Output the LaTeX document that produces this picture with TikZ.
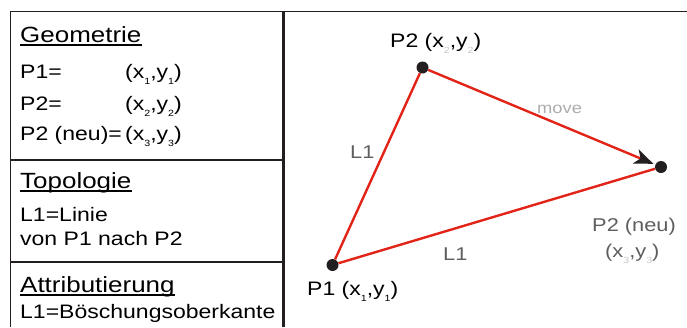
\documentclass[tikz,border=0pt]{standalone}
\usepackage{fontspec}
\setmainfont{Liberation Sans}
\newfontfamily\af[FakeStretch=1.18]{Liberation Sans}
\usetikzlibrary{arrows.meta}
\definecolor{ink}{HTML}{231F20}
\definecolor{lred}{RGB}{226,36,24}
\definecolor{lbl}{HTML}{5E5E5E}
\newcommand\subx[1]{\raisebox{-6.5pt}{\fontsize{9}{9}\selectfont #1}}
\newcommand\subg[1]{\raisebox{-6.5pt}{\fontsize{9}{9}\selectfont\color{gray!45}#1}}
\tikzset{
  frame/.style={draw=ink,line width=1.5pt},
  sep/.style={draw=ink,line width=1.3pt},
  head/.style={anchor=base west,inner sep=0pt,font=\af\fontsize{22}{22}\selectfont,text=black},
  body/.style={anchor=base west,inner sep=0pt,font=\af\fontsize{19.5}{19.5}\selectfont,text=black},
  glabel/.style={anchor=base west,inner sep=0pt,font=\af\fontsize{18.5}{18.5}\selectfont,text=lbl},
  mlabel/.style={anchor=base west,inner sep=0pt,font=\af\fontsize{15.5}{15.5}\selectfont,text=gray!65},
  dot/.style={circle,fill=ink,inner sep=0pt,minimum size=12pt},
  redline/.style={draw=lred,line width=2.4pt},
  uline/.style={draw=black,line width=1.2pt}
}
\begin{document}
\begin{tikzpicture}[x=1pt,y=-1pt]
\useasboundingbox (0,0) rectangle (687,327);
% frame
\coordinate (tl) at (10,11.5);
\coordinate (tr) at (687,11.5);
\coordinate (bl) at (10,327);
\coordinate (vt) at (283.5,11.5);
\coordinate (vb) at (283.5,327);
\coordinate (s1l) at (10,160);
\coordinate (s1r) at (283.5,160);
\coordinate (s2l) at (10,262);
\coordinate (s2r) at (283.5,262);
\draw[frame] (tl) -- (tr);
\draw[draw=ink,line width=1pt] (tl) -- (bl);
\draw[draw=ink,line width=2.6pt] (vt) -- (vb);
\draw[sep] (s1l) -- (s1r);
\draw[sep] (s2l) -- (s2r);
% left texts
\node[head] (h1) at (20,42.5) {Geometrie};
\draw[uline] ([yshift=-2.5pt]h1.base west) -- ([yshift=-2.5pt]h1.base east);
\node[body] (g1) at (20,78) {P1=};
\node[body] (g1b) at (125,78) {(x\subx{1},y\subx{1})};
\node[body] (g2) at (20,110) {P2=};
\node[body] (g2b) at (125,110) {(x\subx{2},y\subx{2})};
\node[body] (g3) at (20,140) {P2 (neu)=};
\node[body] (g3b) at (125,140) {(x\subx{3},y\subx{3})};
\node[head] (h2) at (20,188.5) {Topologie};
\draw[uline] ([yshift=-2.5pt]h2.base west) -- ([yshift=-2.5pt]h2.base east);
\node[body] (t1) at (20,221.5) {L1=Linie};
\node[body] (t2) at (20,245.5) {von P1 nach P2};
\node[head] (h3) at (20,292.5) {Attributierung};
\draw[uline] ([yshift=-2.5pt]h3.base west) -- ([yshift=-2.5pt]h3.base east);
\node[body] (a1) at (20,318) {L1=Böschungsoberkante};
% points
\node[dot] (p1) at (332.5,265) {};
\node[dot] (p2) at (422.5,67.5) {};
\node[dot] (p2n) at (661,167) {};
\draw[redline] (p1) -- (p2);
\draw[redline] (p1) -- (p2n);
\draw[redline,shorten >=2pt,-{Stealth[length=19pt,width=15pt,inset=5pt,color=ink]}] (p2) -- (p2n);
% right labels
\node[body] (lp2) at (390,47) {P2 (x\subg{2},y\subg{2})};
\node[body] (lp1) at (307,295) {P1 (x\subx{1},y\subx{1})};
\node[glabel] (lp2n) at (592,231) {P2 (neu)};
\node[glabel] (lp2nc) at (605,257) {(x\subg{3},y\subg{3})};
\node[mlabel] (mv) at (537,113) {move};
\node[glabel] (l1a) at (350,158) {L1};
\node[glabel] (l1b) at (443,260) {L1};
\end{tikzpicture}
\end{document}
